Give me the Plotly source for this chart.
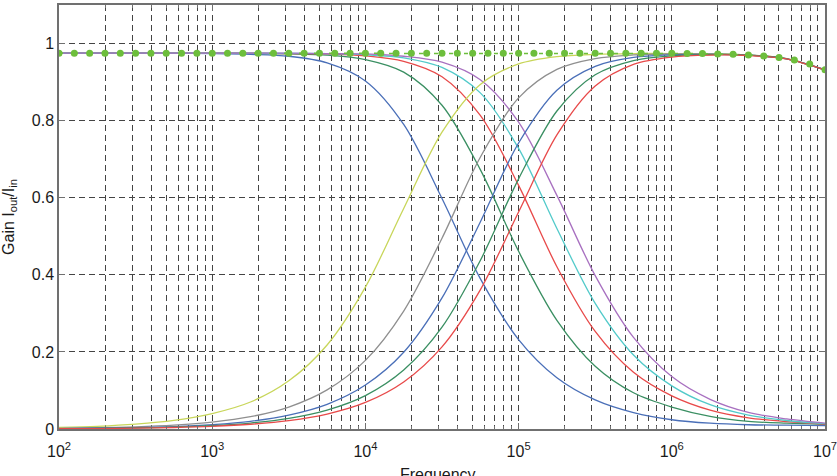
import plotly.graph_objects as go

# Frequencies (Hz) sampled every quarter decade
freq = [100, 177.8, 316.2, 562.3, 1000, 1778, 3162, 5623, 10000, 17783, 31623,
        56234, 100000, 177828, 316228, 562341, 1000000, 1778279, 3162278,
        5623413, 10000000]

# Low-pass (falling) curves
lp_blue = [0.975, 0.975, 0.975, 0.975, 0.974, 0.972, 0.967, 0.950, 0.903, 0.790, 0.598,
           0.390, 0.232, 0.133, 0.0755, 0.0425, 0.024, 0.015, 0.011, 0.010, 0.009]
lp_green = [0.975, 0.975, 0.975, 0.975, 0.975, 0.9745, 0.973, 0.970, 0.9585, 0.926, 0.840,
            0.673, 0.461, 0.282, 0.163, 0.094, 0.057, 0.033, 0.020, 0.015, 0.012]
lp_red = [0.975, 0.975, 0.975, 0.975, 0.975, 0.975, 0.974, 0.973, 0.968, 0.954, 0.914,
          0.8135, 0.632, 0.421, 0.253, 0.147, 0.086, 0.049, 0.029, 0.019, 0.013]
lp_cyan = [0.975, 0.975, 0.975, 0.975, 0.975, 0.975, 0.9746, 0.9738, 0.971, 0.963, 0.938,
           0.872, 0.728, 0.520, 0.326, 0.192, 0.112, 0.063, 0.036, 0.022, 0.014]
lp_purple = [0.975, 0.975, 0.975, 0.975, 0.975, 0.975, 0.975, 0.974, 0.973, 0.967, 0.9515,
             0.906, 0.796, 0.606, 0.398, 0.2375, 0.136, 0.077, 0.043, 0.026, 0.015]

# High-pass (rising) curves
hp_yellow = [0.004, 0.007, 0.0126, 0.0223, 0.040, 0.070, 0.125, 0.218, 0.368, 0.572, 0.770,
             0.894, 0.947, 0.966, 0.972, 0.974, 0.974, 0.9735, 0.970, 0.961, 0.932]
hp_gray = [0.0018, 0.0032, 0.0057, 0.0102, 0.018, 0.032, 0.057, 0.1015, 0.178, 0.306, 0.495,
           0.705, 0.859, 0.933, 0.961, 0.9705, 0.973, 0.973, 0.970, 0.961, 0.932]
hp_blue = [0.0012, 0.002, 0.0036, 0.0064, 0.0115, 0.020, 0.036, 0.064, 0.114, 0.199, 0.340,
           0.537, 0.742, 0.879, 0.941, 0.964, 0.971, 0.972, 0.970, 0.9605, 0.932]
hp_green = [0.0009, 0.0015, 0.0028, 0.0049, 0.0087, 0.0155, 0.0275, 0.049, 0.0866, 0.153, 0.264,
            0.437, 0.649, 0.825, 0.919, 0.956, 0.968, 0.9715, 0.970, 0.960, 0.931]
hp_red = [0.0007, 0.0012, 0.0022, 0.0039, 0.0069, 0.0123, 0.0218, 0.0388, 0.0689, 0.122, 0.213,
          0.361, 0.563, 0.763, 0.890, 0.946, 0.965, 0.970, 0.969, 0.960, 0.931]

# Total gain (dotted green), every tenth of a decade
sum_freq = [100, 125.9, 158.5, 199.5, 251.2, 316.2, 398.1, 501.2, 631.0, 794.3,
            1000, 1259, 1585, 1995, 2512, 3162, 3981, 5012, 6310, 7943,
            10000, 12589, 15849, 19953, 25119, 31623, 39811, 50119, 63096, 79433,
            100000, 125893, 158489, 199526, 251189, 316228, 398107, 501187, 630957, 794328,
            1000000, 1258925, 1584893, 1995262, 2511886, 3162278, 3981072, 5011872, 6309573,
            7943282, 10000000]
sum_gain = [0.975, 0.975, 0.975, 0.975, 0.975, 0.975, 0.975, 0.975, 0.975, 0.975,
            0.975, 0.975, 0.975, 0.975, 0.975, 0.975, 0.975, 0.975, 0.975, 0.975,
            0.975, 0.975, 0.975, 0.975, 0.975, 0.975, 0.975, 0.975, 0.975, 0.975,
            0.975, 0.975, 0.975, 0.975, 0.975, 0.975, 0.975, 0.975, 0.975, 0.975,
            0.975, 0.974, 0.974, 0.973, 0.972, 0.970, 0.968, 0.964, 0.957, 0.947, 0.932]

x_tick_vals = [1e2, 1e3, 1e4, 1e5, 1e6, 1e7]
x_tick_text = ["10<sup>2</sup>", "10<sup>3</sup>", "10<sup>4</sup>",
               "10<sup>5</sup>", "10<sup>6</sup>", "10<sup>7</sup>"]
x_minor_vals = [m * 10 ** k for k in range(2, 7) for m in range(2, 10)]
y_tick_vals = [0, 0.2, 0.4, 0.6, 0.8, 1]
y_tick_text = ["0", "0.2", "0.4", "0.6", "0.8", "1"]

C_BLUE = "#4a6fb8"
C_DGREEN = "#3a8f62"
C_RED = "#e84a4a"
C_CYAN = "#52caca"
C_PURPLE = "#a870c0"
C_YELLOW = "#c8d65a"
C_GRAY = "#8f8f8f"
C_SUM = "#6dbe3c"

fig = go.Figure()

series = [
    (lp_blue, C_BLUE), (lp_green, C_DGREEN), (lp_red, C_RED), (lp_cyan, C_CYAN),
    (lp_purple, C_PURPLE),
    (hp_yellow, C_YELLOW), (hp_gray, C_GRAY), (hp_blue, C_BLUE), (hp_green, C_DGREEN),
    (hp_red, C_RED),
]
for vals, col in series:
    fig.add_trace(go.Scatter(x=freq, y=vals, mode="lines",
                             line=dict(color=col, width=1.3, shape="spline", smoothing=0.9),
                             showlegend=False, hoverinfo="skip"))

fig.add_trace(go.Scatter(x=sum_freq, y=sum_gain, mode="lines+markers",
                         line=dict(color=C_SUM, width=1.5, dash="4px,11px"),
                         marker=dict(color=C_SUM, size=7),
                         showlegend=False, hoverinfo="skip"))

FONT = "Liberation Sans, Arial, sans-serif"
GRIDC = "#444444"
FRAME = "#707070"

fig.update_layout(
    width=837, height=476,
    margin=dict(l=59, r=12, t=5, b=47, autoexpand=False),
    paper_bgcolor="white", plot_bgcolor="white",
    font=dict(family=FONT, size=16, color="#1a1a1a"),
    xaxis=dict(
        type="log", range=[2, 7], tickmode="array", tickvals=x_tick_vals,
        ticktext=x_tick_text, showgrid=True, gridcolor=GRIDC, gridwidth=1,
        griddash="6px,4px", zeroline=False, ticks="inside", ticklen=6,
        tickcolor=FRAME, showline=True, linecolor=FRAME, linewidth=1.5,
        mirror="allticks", ticklabeloverflow="allow",
        minor=dict(tickmode="array", tickvals=x_minor_vals, showgrid=True,
                   gridcolor=GRIDC, gridwidth=1, griddash="6px,4px",
                   ticks="inside", ticklen=3, tickcolor=FRAME),
        tickfont=dict(family=FONT, size=16, color="#1a1a1a"),
        ticklabelstandoff=7,
        automargin=False,
    ),
    yaxis=dict(
        range=[0, 1.1], tickmode="array", tickvals=y_tick_vals, ticktext=y_tick_text,
        showgrid=True, gridcolor=GRIDC, gridwidth=1, griddash="6px,4px",
        zeroline=False, ticks="inside", ticklen=6, tickcolor=FRAME,
        showline=True, linecolor=FRAME, linewidth=1.5, mirror="allticks",
        tickfont=dict(family=FONT, size=16, color="#1a1a1a"),
        title=dict(text="Gain I<sub>out</sub>/I<sub>in</sub>",
                   font=dict(family=FONT, size=16, color="#1a1a1a"), standoff=14),
        automargin=False,
    ),
    annotations=[dict(text="Frequency", xref="paper", yref="paper", x=0.495, y=-0.082,
                      xanchor="center", yanchor="top", showarrow=False,
                      font=dict(family=FONT, size=16, color="#1a1a1a"))],
)

fig.write_html("out.html")
